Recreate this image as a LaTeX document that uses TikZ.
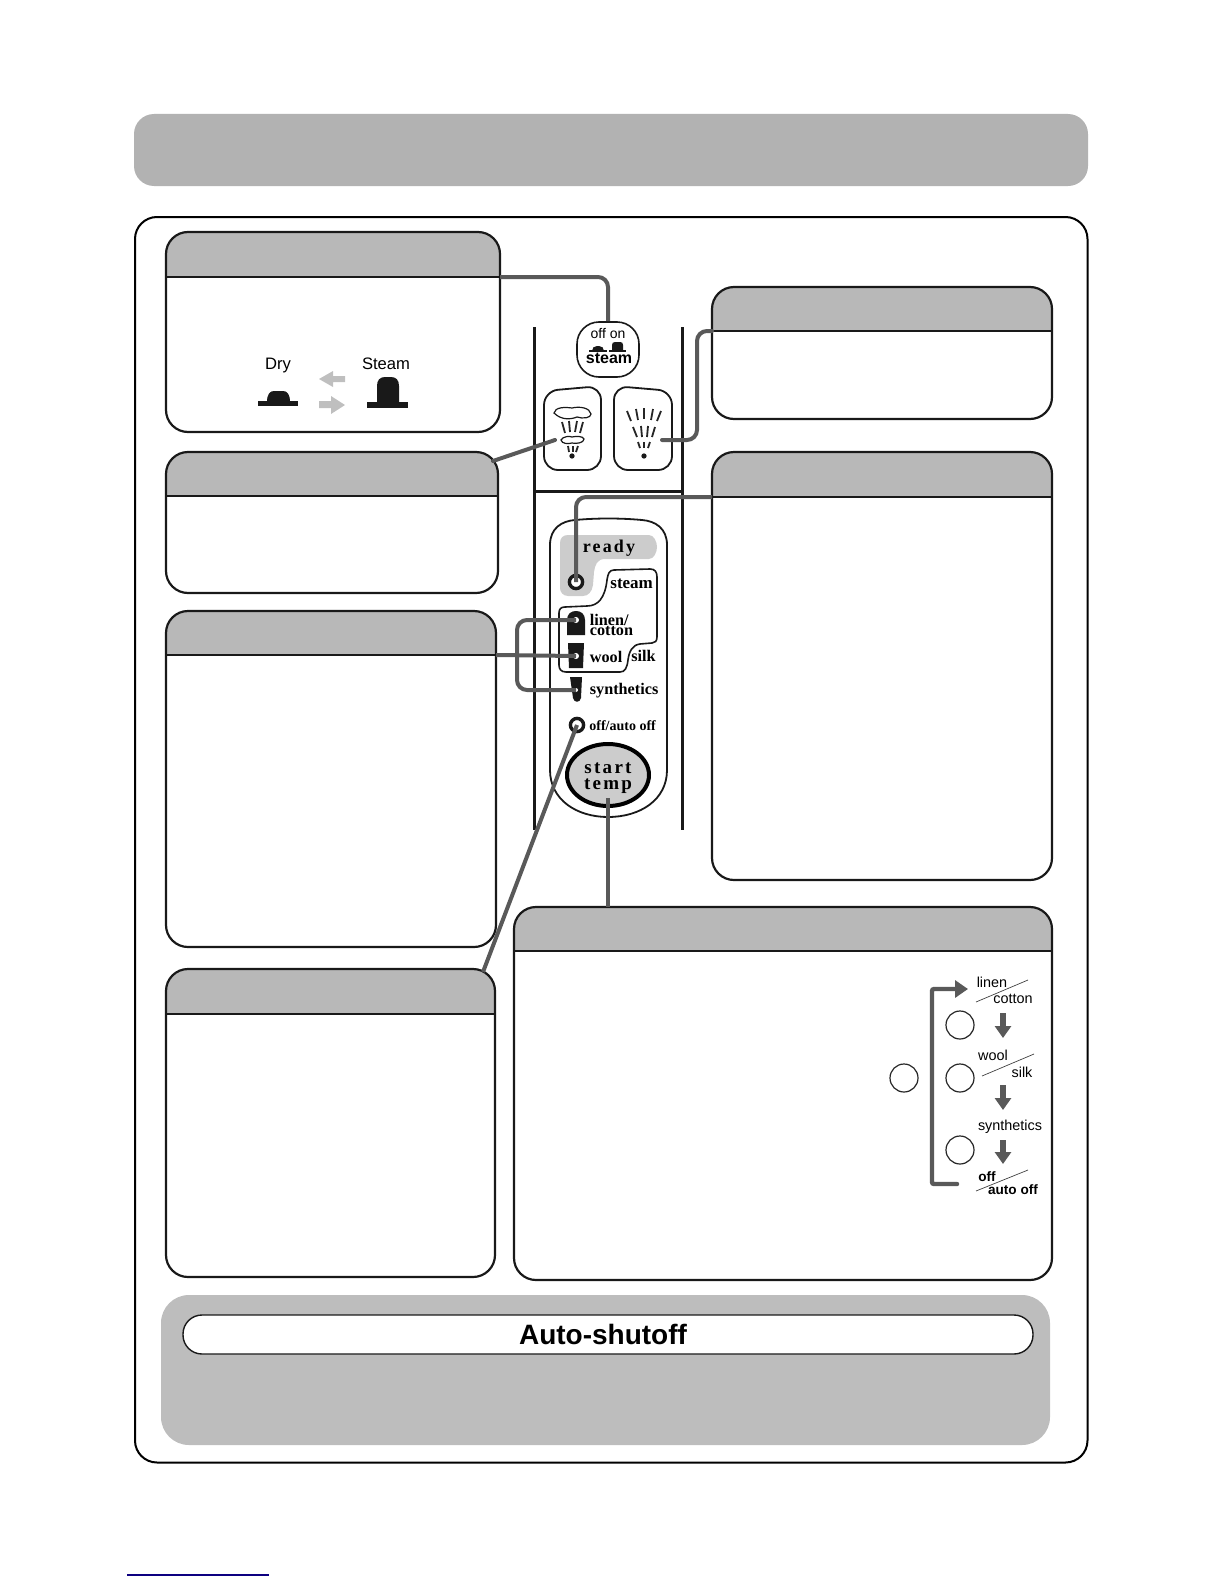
\documentclass[tikz,border=0pt]{standalone}
\usepackage{fontspec}
\setmainfont{Liberation Sans}
\newfontfamily\panelfont{Liberation Serif}[BoldFont=Liberation Serif Bold]
\newfontfamily\widefont[LetterSpace=12]{Liberation Serif Bold}
\usetikzlibrary{arrows.meta,shapes.geometric}
\definecolor{bandgrey}{gray}{0.70}
\definecolor{headgrey}{gray}{0.72}
\definecolor{softgrey}{gray}{0.74}
\definecolor{readygrey}{gray}{0.80}
\definecolor{wiregrey}{gray}{0.35}
\definecolor{pagerule}{rgb}{0.05,0.0,0.50}
\tikzset{
  wire/.style={draw=wiregrey,line width=2pt,rounded corners=5pt},
  boxline/.style={draw=black!90,line width=1.1pt},
  panelline/.style={draw=black!90,line width=1.5pt},
  ray/.style={draw=black!85,line width=.9pt},
  led/.style={circle,draw=black!90,line width=1.7pt,fill=white,inner sep=0pt,minimum size=11pt*.6},
  tag/.style={inner sep=0pt,font=\panelfont\bfseries\fontsize{8.1}{8}\selectfont},
  sans/.style={inner sep=0pt,font=\fontsize{7.2}{8}\selectfont},
  ring/.style={circle,draw=black!85,line width=.6pt,inner sep=0pt,minimum size=14pt},
  slash/.style={draw=black!75,line width=.35pt},
  downarrow/.style={draw=wiregrey,line width=3pt,-{Triangle[length=6pt,width=8pt]}},
}
\begin{document}
\begin{tikzpicture}[x=.5pt,y=-.5pt]
\useasboundingbox (0,0) rectangle (1224,1584);
\fill[bandgrey,rounded corners=10pt] (134,114) rectangle (1088,186);
\draw[black,line width=1pt,rounded corners=11pt] (135,217) rectangle (1087.5,1462.5);

% callout boxes: name, corners, header bottom
\foreach \nm/\xa/\ya/\xb/\yb/\yh in {dry/166/232/500/432/277,spray/166/452/498/593/496,
  fabric/166/611/496/947/655,auto/166/969/495/1277/1014,shot/712/287/1052/419/331,
  ready/712/452/1052/880/497,temp/514/907/1052/1280/951}{
  \begin{scope}
    \clip[rounded corners=11pt] (\xa,\ya) rectangle (\xb,\yb);
    \fill[headgrey] (\xa,\ya) rectangle (\xb,\yh);
  \end{scope}
  \draw[boxline] (\xa,\yh) -- (\xb,\yh);
  \draw[boxline,rounded corners=11pt] (\xa,\ya) rectangle (\xb,\yb);
  \coordinate (\nm-left) at (\xa,\yh);
  \coordinate (\nm-right) at (\xb,\yh);
}
\coordinate (spray-tip) at (493,461);
\coordinate (auto-tip) at (483,972);
\coordinate (temp-top) at (608,907);

% dry / steam sketch
\node[sans,anchor=base,font=\fontsize{8.3}{9}\selectfont] (drytext) at (278,369) {Dry};
\node[sans,anchor=base,font=\fontsize{8.3}{9}\selectfont] (steamtext) at (386,369) {Steam};
\fill[black!90] (258,401) rectangle (298,406);
\fill[black!90] (267,402) .. controls (267,394) and (270,391) .. (274,391) -- (283,391) .. controls (287,391) and (290,394) .. (290,402) -- cycle;
\fill[black!90] (367,402) rectangle (408,408);
\fill[black!90] (377,403) -- (377,386) .. controls (377,380) and (380,377) .. (385,377) -- (391,377) .. controls (396,377) and (399,380) .. (399,386) -- (399,403) -- cycle;
\fill[black!25] (319,379) -- (333,371) -- (333,376) -- (345,376) -- (345,382) -- (333,382) -- (333,387) -- cycle;
\fill[black!25] (345,405) -- (331,396) -- (331,401) -- (319,401) -- (319,408) -- (331,408) -- (331,414) -- cycle;

% control panel
\draw[panelline] (534,327) -- (534,830);
\draw[panelline] (682,327) -- (682,830);
\draw[panelline] (534,491) -- (682,491);
\node[draw=black!90,line width=.8pt,fill=white,rounded corners=11pt,minimum width=31pt,minimum height=27.5pt,inner sep=0pt] (steamsw) at (608,349.5) {};
\node[sans,font=\fontsize{7}{7}\selectfont] (swoff) at (608,334) {off on};
\node[sans,font=\fontsize{8}{8}\bfseries\selectfont] (swsteam) at (609,358) {steam};
\fill[black!90] (589,350) rectangle (607,352);
\fill[black!90] (592,351) .. controls (592,348) and (594,346) .. (597,346) -- (599,346) .. controls (602,346) and (604,348) .. (604,351) -- cycle;
\fill[black!90] (609,350) rectangle (626,352);
\fill[black!90] (612,351) -- (612,345) .. controls (612,343) and (613,342) .. (615,342) -- (620,342) .. controls (622,342) and (623,343) .. (623,345) -- (623,351) -- cycle;

\draw[black!90,line width=.9pt,rounded corners=7pt] (572,470) -- (544,470) -- (544,391) -- (601,386) -- (601,470) -- cycle;
\draw[black!90,line width=.9pt,rounded corners=7pt] (643,470) -- (614,470) -- (614,386) -- (672,391) -- (672,470) -- cycle;
\draw[black!90,line width=.6pt] (554,413) .. controls (555,407) and (565,407) .. (572,408) .. controls (580,406) and (590,408) .. (591,414) .. controls (591,418) and (583,419) .. (577,417) .. controls (572,419) and (562,421) .. (554,413) -- cycle;
\draw[black!90,line width=.6pt] (561,440) .. controls (563,436) and (570,436) .. (572,437) .. controls (576,436) and (583,436) .. (584,439) .. controls (584,443) and (576,444) .. (572,443) .. controls (568,444) and (562,444) .. (561,440) -- cycle;
\foreach \xa/\ya/\xb/\yb in {562/422/565/433,569/421/570/432,577/421/575/432,583/422/580/433,
  568/446/569/452,573/446/573/452,578/446/576/452,
  627/411/631/421,636/409/638/420,644/408/644/419,653/409/651/420,661/411/657/421,
  633/427/637/437,641/426/642/437,648/426/647/437,655/427/652/437,
  638/442/640/448,644/442/644/448,650/442/648/448}{
  \draw[ray] (\xa,\ya) -- (\xb,\yb);
}
\fill[black!90] (572,456) circle (2.2pt*.6);
\fill[black!90] (644,456) circle (2.2pt*.6);

\draw[black!90,line width=.9pt] (550,545) .. controls (550,528) and (562,521) .. (575,520) .. controls (597,518) and (620,518) .. (642,520) .. controls (655,521) and (667,528) .. (667,545) -- (667,770) .. controls (667,800) and (640,817) .. (608,817) .. controls (577,817) and (550,800) .. (550,770) -- cycle;
\fill[readygrey] (560,543) .. controls (560,538) and (563,535) .. (568,535) -- (649,535) .. controls (654,535) and (657,542) .. (657,547) .. controls (657,552) and (654,559) .. (649,559) -- (605,559) .. controls (597,559) and (595,565) .. (594,572) -- (593,585) .. controls (592,592) and (588,596) .. (583,596) -- (568,596) .. controls (563,596) and (560,592) .. (560,588) -- cycle;
\draw[black!90,line width=.8pt] (607,580) .. controls (608,574) and (609,570) .. (614,570) -- (650,569) .. controls (655,569) and (657,572) .. (657,577) -- (657,637) .. controls (657,641) and (655,643) .. (652,643) -- (640,644) .. controls (632,645) and (629,652) .. (628,660) .. controls (627,668) and (625,672) .. (620,672) -- (566,672) .. controls (561,672) and (559,669) .. (559,665) -- (559,613) .. controls (559,609) and (561,607) .. (565,607) -- (587,606) .. controls (598,606) and (605,598) .. (607,580) -- cycle;
\node[tag,font=\widefont\fontsize{9}{9}\selectfont] (readytext) at (609,548) {ready};
\node[tag,anchor=west,font=\panelfont\bfseries\fontsize{8.5}{8}\selectfont] (steamtag) at (610,584) {steam};
\node[tag,anchor=west,font=\panelfont\bfseries\fontsize{8.1}{5}\selectfont,align=left] (linentag) at (589.5,625) {linen/\\cotton};
\node[tag,anchor=west] (wooltag) at (589.5,657) {wool};
\node[tag,anchor=west] (silktag) at (631,656) {silk};
\node[tag,anchor=west] (synthtag) at (589.5,691) {synthetics};
\node[tag,anchor=west,font=\panelfont\bfseries\fontsize{7}{7}\selectfont] (offtag) at (589,726) {off/auto off};
\fill[black!90] (567,635) -- (567,620) .. controls (567,614) and (571,611) .. (576,611) .. controls (581,611) and (585,614) .. (585,620) -- (585,635) -- cycle;
\fill[black!90] (568,643) -- (584,643) -- (583,668) -- (569,668) -- cycle;
\fill[black!90] (570,677) -- (582,677) -- (581,698) .. controls (580,703) and (574,703) .. (573,698) -- cycle;
\node[led] (readyled) at (576,582) {};
\node[led,draw=none,fill=white,minimum size=3pt] (linenled) at (576,620) {};
\node[led,draw=none,fill=white,minimum size=3pt] (woolled) at (576,656) {};
\node[led,draw=none,fill=white,minimum size=2pt] (synthled) at (576,690) {};
\node[led] (offled) at (577,725) {};
\node[ellipse,draw=black,line width=2pt,fill=readygrey,minimum width=41pt,minimum height=31pt,inner sep=0pt] (startbtn) at (608,775) {};
\node[tag,font=\widefont\fontsize{9.5}{8.2}\selectfont,align=center] (starttext) at (608,778) {start\\temp};

% connectors
\draw[wire] (dry-right) -| (steamsw.north);
\draw[wire,line cap=round] (spray-tip) -- (555,440);
\draw[wire,line cap=round] (shot-left) -- (697,331) -- (697,440) -- (662,440);
\draw[wire] (ready-left) -| (readyled.center);
\draw[wire] (fabric-right) -- (woolled.center);
\draw[wire] (linenled.center) -- (517,620) -- (517,690) -- (synthled.center);
\draw[wire] (auto-tip) -- (offled.center);
\draw[wire,rounded corners=0pt] (608,798) -- (temp-top);

% temperature sequence
\node[ring] (ringa) at (960,1025) {};
\node[ring] (ringb) at (960,1078) {};
\node[ring] (ringc) at (960,1150) {};
\node[ring] (ringd) at (904,1078) {};
\draw[draw=wiregrey,line width=2.2pt,line cap=round,rounded corners=1pt,-{Triangle[length=6.5pt,width=8.5pt]}] (957,1184) -- (932,1184) -- (932,989) -- (968,989);
\foreach \ya/\yb in {1013/1038,1085/1110,1140/1164}{
  \draw[downarrow] (1003,\ya) -- (1003,\yb);
}
\node[sans] (linena) at (992,982) {linen};
\node[sans] (cottona) at (1013,999) {cotton};
\node[sans] (woola) at (993,1055) {wool};
\node[sans] (silka) at (1022,1072) {silk};
\node[sans] (syntha) at (1010,1127) {synthetics};
\node[sans,font=\fontsize{6.8}{8}\bfseries\selectfont] (offa) at (987,1177) {off};
\node[sans,font=\fontsize{6.8}{8}\bfseries\selectfont] (autoa) at (1013,1190) {auto off};
\draw[slash] (976,1002) -- (1028,980);
\draw[slash] (982,1076) -- (1034,1054);
\draw[slash] (976,1191) -- (1028,1170);

% auto-shutoff panel
\fill[softgrey,rounded corners=14pt] (161,1295) rectangle (1050,1445);
\node[draw=black!90,line width=.7pt,fill=white,rounded corners=9.5pt,minimum width=425pt,minimum height=19.5pt,inner sep=0pt] (autopill) at (608,1334.5) {};
\node[inner sep=0pt,font=\fontsize{14}{14}\bfseries\selectfont] (autotitle) at (603,1334) {Auto-shutoff};

\draw[pagerule,line width=.6pt] (127,1575) -- (269,1575);
\end{tikzpicture}
\end{document}
